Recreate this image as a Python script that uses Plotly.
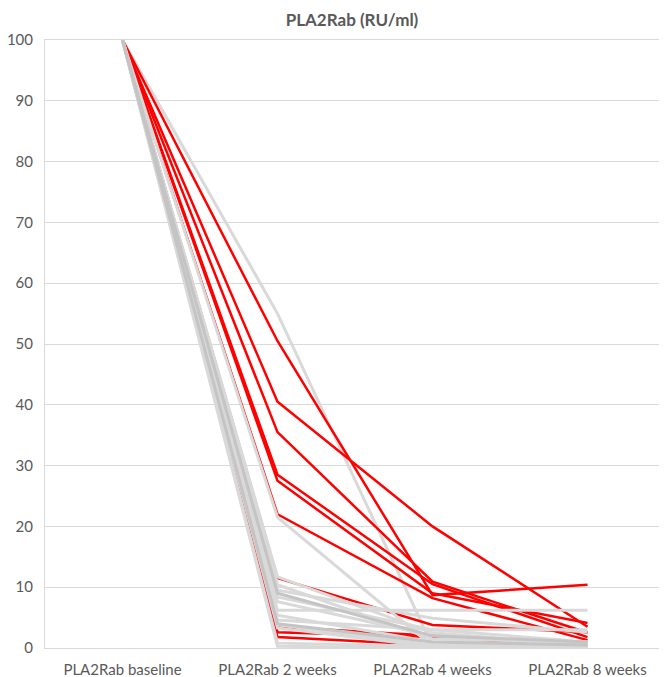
import plotly.graph_objects as go

categories = ["PLA2Rab baseline", "PLA2Rab 2 weeks", "PLA2Rab 4 weeks", "PLA2Rab 8 weeks"]

# patients shown in red (values relative to baseline = 100)
red_2w = [50.5, 40.5, 35.5, 28.5, 27.5, 22.0, 11.5, 3.5, 2.6, 1.8]
red_4w = [8.7, 20.0, 10.9, 10.5, 9.0, 8.2, 3.8, 2.0, 1.8, 0.5]
red_8w = [10.4, 3.5, 2.5, 1.8, 4.1, 1.3, 2.6, 0.8, 0.2, 0.0]

# patients shown in grey
grey_2w = [55.0, 21.5, 11.7, 10.4, 9.5, 8.4, 7.6, 6.2, 5.4, 4.6, 3.8, 3.3, 0.8, 0.3, 9.0, 4.0]
grey_4w = [0.3, 0.3, 2.5, 1.5, 4.9, 3.0, 2.0, 6.2, 1.0, 3.0, 0.5, 0.2, 0.3, 0.0, 2.0, 1.0]
grey_8w = [0.3, 0.3, 0.5, 1.0, 2.6, 1.0, 0.5, 6.2, 0.5, 3.0, 0.2, 0.0, 0.0, 0.0, 1.0, 0.5]
grey_dark = [False] * 14 + [True, True]

baseline = 100

RED = "#ff0000"
GREY = "#d9d9d9"
GREY_DARK = "#c4c4c4"
TXT = "#595959"
FONT = "Lato"

fig = go.Figure()


def add_line(vals, color, width):
    fig.add_trace(go.Scatter(x=categories, y=vals, mode="lines",
                             line=dict(color=color, width=width),
                             showlegend=False, hoverinfo="skip"))


# the tallest grey line sits under the red ones
add_line([baseline, grey_2w[0], grey_4w[0], grey_8w[0]], GREY, 3)
for a, b, c in zip(red_2w, red_4w, red_8w):
    add_line([baseline, a, b, c], RED, 2.5)
for i in range(1, len(grey_2w)):
    add_line([baseline, grey_2w[i], grey_4w[i], grey_8w[i]],
             GREY_DARK if grey_dark[i] else GREY, 3)

# page body adds an 8px offset, so the figure is sized to 659x669
fig.update_layout(
    width=659, height=669,
    margin=dict(l=37, r=2, t=32, b=29),
    paper_bgcolor="white", plot_bgcolor="white",
    font=dict(family=FONT, size=15, color=TXT),
    title=dict(text="<b>PLA2Rab (RU/ml)</b>", x=0.522, xanchor="center",
               xref="container", y=0.982, yanchor="middle", yref="container",
               pad=dict(t=0, b=0),
               font=dict(family=FONT, size=17, color=TXT)),
    xaxis=dict(type="category", range=[-0.5, 3.5], showgrid=False,
               ticks="", showline=True, linecolor=GREY, mirror=True,
               ticklabelstandoff=8, automargin=False,
               tickfont=dict(family=FONT, size=15, color=TXT)),
    yaxis=dict(range=[0, 100], dtick=10, showgrid=True, gridcolor=GREY,
               gridwidth=1, zeroline=False, showline=True, linecolor=GREY,
               mirror=True, ticks="", ticklabelstandoff=8, automargin=False,
               tickfont=dict(family=FONT, size=15, color=TXT)),
)

fig.write_html("out.html")
